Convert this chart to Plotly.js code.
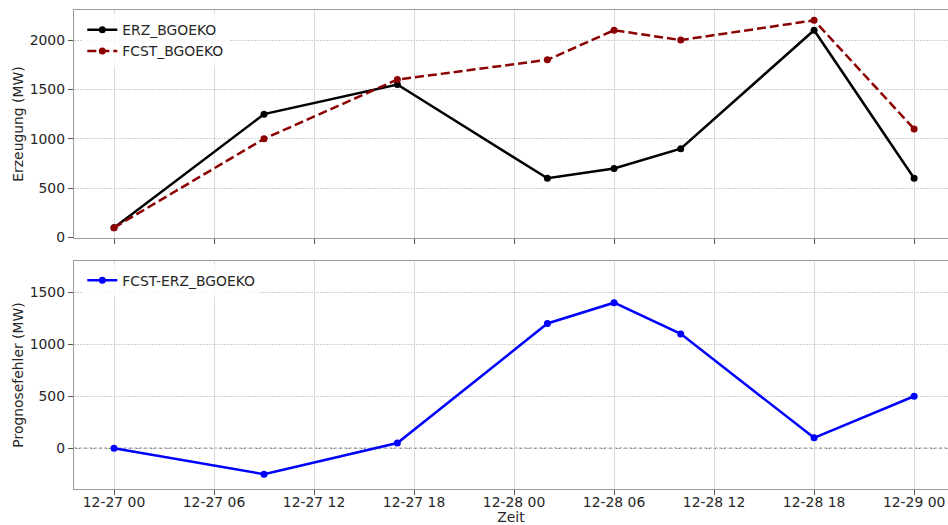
<!DOCTYPE html>
<html>
<head>
<meta charset="utf-8">
<script src="https://cdn.plot.ly/plotly-3.0.1.min.js"></script>
<style>html,body{margin:0;padding:0;background:#fff;}#chart{width:948px;height:525px;}</style>
</head>
<body>
<div id="chart"></div>
<script>
const times = ['2024-12-27 00:00','2024-12-27 09:00','2024-12-27 17:00','2024-12-28 02:00','2024-12-28 06:00','2024-12-28 10:00','2024-12-28 18:00','2024-12-29 00:00'];
const erz = [100, 1250, 1550, 600, 700, 900, 2100, 600];
const fcst = [100, 1000, 1600, 1800, 2100, 2000, 2200, 1100];
const diff = [0, -250, 50, 1200, 1400, 1100, 100, 500];
const tickVals = ['2024-12-27 00:00','2024-12-27 06:00','2024-12-27 12:00','2024-12-27 18:00','2024-12-28 00:00','2024-12-28 06:00','2024-12-28 12:00','2024-12-28 18:00','2024-12-29 00:00'];
const tickText = ['12-27 00','12-27 06','12-27 12','12-27 18','12-28 00','12-28 06','12-28 12','12-28 18','12-29 00'];

const FONT = 'DejaVu Sans, sans-serif';
const FS = 13.9;

const traces = [
  {x: times, y: erz, name: 'ERZ_BGOEKO', mode: 'lines+markers', xaxis: 'x', yaxis: 'y',
   line: {color: '#000000', width: 2.5}, marker: {size: 7, color: '#000000'}, legend: 'legend'},
  {x: times, y: fcst, name: 'FCST_BGOEKO', mode: 'lines+markers', xaxis: 'x', yaxis: 'y',
   line: {color: '#8b0000', width: 2.5, dash: '9px,4px'}, marker: {size: 7, color: '#8b0000'}, legend: 'legend'},
  {x: times, y: diff, name: 'FCST-ERZ_BGOEKO', mode: 'lines+markers', xaxis: 'x2', yaxis: 'y2',
   line: {color: '#0000ff', width: 2.5}, marker: {size: 7, color: '#0000ff'}, legend: 'legend2'}
];

const xr = ['2024-12-26 21:36', '2024-12-29 02:02'];
const xbase = {
  type: 'date', range: xr, tickmode: 'array', tickvals: tickVals, ticktext: tickText,
  showgrid: true, gridcolor: '#d9d9d9', gridwidth: 1,
  showline: true, linecolor: '#9a9a9a', linewidth: 1.2, mirror: true,
  ticks: 'outside', ticklen: 5, tickwidth: 1, tickcolor: '#555',
  zeroline: false, automargin: false,
  tickfont: {family: FONT, size: FS, color: '#262626'}
};
const ybase = {
  showgrid: true, gridcolor: '#cfcfcf', gridwidth: 1, griddash: '1.5px,1.5px',
  showline: true, linecolor: '#9a9a9a', linewidth: 1.2, mirror: true,
  ticks: 'outside', ticklen: 5, tickwidth: 1, tickcolor: '#555',
  zeroline: false, automargin: false, dtick: 500, tick0: 0,
  tickfont: {family: FONT, size: FS, color: '#262626'}
};

const layout = {
  width: 948, height: 525,
  margin: {l: 74, r: 0, t: 10, b: 36},
  paper_bgcolor: '#ffffff', plot_bgcolor: '#ffffff',
  font: {family: FONT, size: FS, color: '#262626'},
  showlegend: true,
  xaxis: Object.assign({}, xbase, {domain: [0, 1], anchor: 'y', showticklabels: false, matches: 'x2'}),
  yaxis: Object.assign({}, ybase, {domain: [0.524, 1], anchor: 'x', range: [-5, 2305],
    title: {text: 'Erzeugung (MW)', font: {family: FONT, size: FS, color: '#262626'}, standoff: 2}}),
  xaxis2: Object.assign({}, xbase, {domain: [0, 1], anchor: 'y2', ticklabelstandoff: -5,
    title: {text: 'Zeit', font: {family: FONT, size: FS, color: '#262626'}, standoff: 2}}),
  yaxis2: Object.assign({}, ybase, {domain: [0, 0.476], anchor: 'x2', range: [-392, 1801],
    title: {text: 'Prognosefehler (MW)', font: {family: FONT, size: FS, color: '#262626'}, standoff: 2}}),
  legend: {x: 0.0095, y: 0.991, xanchor: 'left', yanchor: 'top', bgcolor: 'rgba(255,255,255,0.8)',
    font: {family: FONT, size: FS, color: '#262626'}, tracegroupgap: 0, itemwidth: 30},
  legend2: {x: 0.0095, y: 0.468, xanchor: 'left', yanchor: 'top', bgcolor: 'rgba(255,255,255,0.8)',
    font: {family: FONT, size: FS, color: '#262626'}, itemwidth: 30},
  shapes: [
    {type: 'line', xref: 'x2 domain', yref: 'y2', x0: 0, x1: 1, y0: 0, y1: 0,
     line: {color: '#444', width: 1, dash: '3px,2px'}, layer: 'below'}
  ]
};

Plotly.newPlot('chart', traces, layout, {displayModeBar: false, staticPlot: true});
</script>
</body>
</html>
